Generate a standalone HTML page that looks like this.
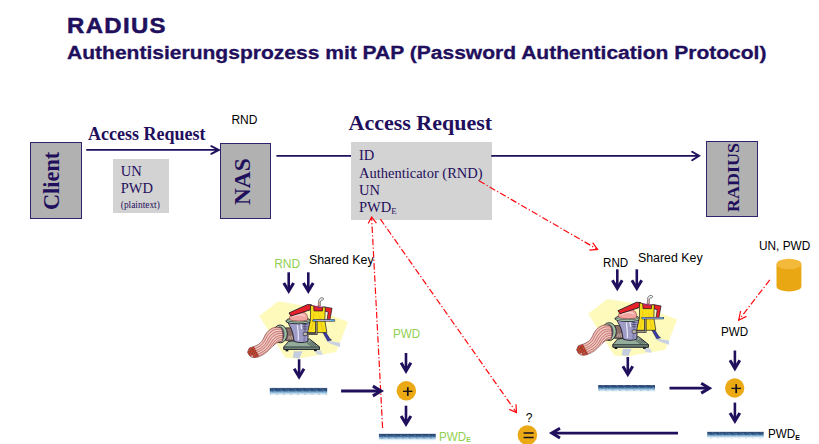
<!DOCTYPE html>
<html><head><meta charset="utf-8">
<style>
html,body{margin:0;padding:0;background:#fff;}
body{width:819px;height:444px;position:relative;overflow:hidden;font-family:"Liberation Sans",sans-serif;}
.t{position:absolute;white-space:nowrap;line-height:1;transform-origin:0 0;}
.navy{color:#1f0f5c;}
.serif{font-family:"Liberation Serif",serif;}
.box{position:absolute;background:#b1b1b1;border:1.4px solid #2e2370;box-sizing:border-box;}
.gbox{position:absolute;background:#d3d3d3;}
.vt{position:absolute;font-family:"Liberation Serif",serif;font-weight:bold;color:#1f0f5c;white-space:nowrap;line-height:1;transform-origin:0 0;transform:rotate(-90deg);}
svg{position:absolute;left:0;top:0;}
sub{font-size:60%;vertical-align:baseline;position:relative;top:0.25em;line-height:0;}
sub.b{font-weight:bold;}
</style></head><body>
<div class="t navy" id="t1" style="left:66.7px;top:15.2px;font-size:21.8px;font-weight:bold;transform:scaleX(1.10);letter-spacing:1.2px;-webkit-text-stroke:0.5px #1f0f5c;">RADIUS</div>
<div class="t navy" id="t2" style="left:67px;top:45.3px;font-size:17.5px;font-weight:bold;transform:scaleX(1.2016);-webkit-text-stroke:0.3px #1f0f5c;">Authentisierungsprozess mit PAP (Password Authentication Protocol)</div>

<div class="box" style="left:29.5px;top:142px;width:52.5px;height:76.5px;"></div>
<div class="vt" id="vclient" style="left:39.8px;top:209.5px;font-size:22.3px;transform:rotate(-90deg) scale(1,1.06);">Client</div>
<div class="box" style="left:219.5px;top:142.9px;width:51.4px;height:76px;"></div>
<div class="vt" id="vnas" style="left:229.6px;top:204.8px;font-size:23.3px;transform:rotate(-90deg) scale(1,1.03);">NAS</div>
<div class="box" style="left:705.5px;top:140.5px;width:52.2px;height:76.5px;"></div>
<div class="vt" id="vrad" style="left:723.5px;top:212.2px;font-size:18px;transform:rotate(-90deg) scale(1,0.97);">RADIUS</div>

<div class="gbox" style="left:112.7px;top:158.5px;width:56.8px;height:54.7px;"></div>
<div class="gbox" style="left:350.7px;top:141.8px;width:141.1px;height:78px;"></div>
<div class="t serif navy" style="left:88px;top:125.23px;font-size:18px;font-weight:bold;">Access Request</div>
<div class="t serif navy" style="left:348.5px;top:111.58px;font-size:22px;font-weight:bold;">Access Request</div>
<div class="t serif navy" style="left:120.8px;top:163.66px;font-size:14.5px;">UN</div>
<div class="t serif navy" style="left:120.8px;top:181.16px;font-size:14.5px;">PWD</div>
<div class="t serif navy" style="left:120.8px;top:200.93px;font-size:9.4px;">(plaintext)</div>
<div class="t serif navy" style="left:359px;top:148.16px;font-size:14.5px;">ID</div>
<div class="t serif navy" style="left:359px;top:165.66px;font-size:14.5px;">Authenticator (RND)</div>
<div class="t serif navy" style="left:359px;top:182.86px;font-size:14.5px;">UN</div>
<div class="t serif navy" style="left:359px;top:199.96px;font-size:14.5px;">PWD<sub>E</sub></div>
<div class="t" style="left:231.4px;top:113.64px;font-size:12px;color:#000;">RND</div>
<div class="t" style="left:274.2px;top:257.74px;font-size:12px;color:#92d050;">RND</div>
<div class="t" style="left:309.2px;top:254.14px;font-size:12px;color:#000;transform:scaleX(1.03);">Shared Key</div>
<div class="t" style="left:392.6px;top:327.64px;font-size:12px;color:#92d050;transform:scaleX(0.97);">PWD</div>
<div class="t" style="left:439.2px;top:430.54px;font-size:12px;color:#92d050;transform:scaleX(0.97);">PWD<sub class="b">E</sub></div>
<div class="t" style="left:603.2px;top:257.44px;font-size:12px;color:#000;transform:scaleX(0.97);">RND</div>
<div class="t" style="left:637.8px;top:251.64px;font-size:12px;color:#000;transform:scaleX(1.03);">Shared Key</div>
<div class="t" style="left:758.7px;top:240.14px;font-size:12px;color:#000;transform:scaleX(0.985);">UN, PWD</div>
<div class="t" style="left:721.4px;top:325.84px;font-size:12px;color:#000;transform:scaleX(0.97);">PWD</div>
<div class="t" style="left:768px;top:428.34px;font-size:12px;color:#000;transform:scaleX(0.97);">PWD<sub class="b">E</sub></div>
<div class="t" style="left:525.7px;top:411.64px;font-size:12px;color:#000;">?</div>
<svg width="819" height="444" viewBox="0 0 819 444">
<defs>
<linearGradient id="barg" x1="0" y1="0" x2="0" y2="1"><stop offset="0" stop-color="#44628e"/><stop offset="0.15" stop-color="#21406c"/><stop offset="0.38" stop-color="#3f6a9a"/><stop offset="0.58" stop-color="#86b4d6"/><stop offset="0.8" stop-color="#d6e8f3"/><stop offset="1" stop-color="#ffffff"/></linearGradient>
<pattern id="noise" width="7" height="4" patternUnits="userSpaceOnUse"><rect x="0" y="1" width="2" height="1" fill="#fff"/><rect x="3" y="2" width="2" height="1" fill="#234"/><rect x="5" y="0" width="1" height="1" fill="#fff"/><rect x="1" y="3" width="2" height="1" fill="#fff"/></pattern>
<g id="grinder">
<!-- coordinates: 5.92x zoom of real px -->
<polygon points="114,154 227,67 392,94 640,188 570,367 341,407 268,401" fill="#fdfabc"/>
<!-- shadows -->
<polygon points="500,298 592,312 592,338 540,320" fill="#c9d2e4"/>
<polygon points="320,362 370,362 352,405 312,400" fill="#c4cce0"/>
<polygon points="440,358 480,358 490,385 455,380" fill="#cfd6e6"/>
<!-- base -->
<polygon points="260,336 288,304 412,290 470,336 470,352 260,352" fill="#93ad9a" stroke="#141420" stroke-width="5" stroke-linejoin="round"/>
<polygon points="260,337 470,337 470,352 260,352" fill="#6f8878" stroke="#141420" stroke-width="4"/>
<rect x="270" y="352" width="16" height="11" fill="#141420"/><rect x="438" y="352" width="16" height="10" fill="#141420"/>
<g stroke="#141420" stroke-width="3"><path d="M405,308 L440,332 M415,304 L450,330 M425,302 L458,328 M395,312 L428,334"/></g>
<!-- brown band + body -->
<path d="M270,224 H335 V300 H270 Z" fill="#8a6f68" stroke="#141420" stroke-width="4"/>
<g stroke="#e8d8d0" stroke-width="2.5" fill="none"><path d="M284,292 l8,-20 l6,20 l8,-22 l6,22 l8,-18 l5,16"/></g>
<path d="M282,185 C290,215 312,225 320,304 C345,314 378,314 402,304 C402,250 408,225 414,185 Z" fill="#9f9cc8" stroke="#141420" stroke-width="5"/>
<path d="M340,205 C344,240 346,262 346,298 M360,200 L365,232" stroke="#ecebf8" stroke-width="7" fill="none"/>
<path d="M384,196 C386,240 384,270 380,304" stroke="#7674a4" stroke-width="12" fill="none" opacity="0.7"/>
<path d="M372,205 H400 M370,218 H400 M372,231 H398" stroke="#141420" stroke-width="3"/>
<!-- outlet ring -->
<ellipse cx="238" cy="260" rx="42" ry="53" fill="#a2c2a4" stroke="#141420" stroke-width="5"/>
<ellipse cx="236" cy="262" rx="25" ry="43" fill="#5e6688" stroke="#141420" stroke-width="3"/>
<!-- strands -->
<path d="M243,224 C200,210 160,235 140,285 C125,318 100,332 58,342 C40,360 45,385 70,398 C90,402 105,398 118,392 C165,372 178,345 205,322 C220,308 238,306 250,302 C256,280 256,245 243,224 Z" fill="#efc0b8" stroke="#6a2020" stroke-width="3.5"/>
<g fill="none" stroke="#98302e" stroke-width="3">
<path d="M246,234 C205,224 170,247 150,294 C135,327 108,344 66,354"/>
<path d="M250,246 C210,238 180,260 160,302 C145,334 118,352 72,366"/>
<path d="M252,258 C215,252 190,272 170,310 C155,340 128,360 82,376"/>
<path d="M252,270 C220,266 198,284 180,318 C165,347 138,368 92,386"/>
<path d="M252,282 C225,280 206,296 190,324 C175,352 148,374 104,394"/>
<path d="M250,293 C232,292 214,304 198,328"/>
</g>
<g fill="none" stroke="#fff" stroke-width="2" opacity="0.85">
<path d="M248,240 C208,231 175,254 155,298 C140,330 113,348 69,360"/>
<path d="M252,264 C218,259 194,278 175,314 C160,344 133,364 87,381"/>
<path d="M252,288 C228,286 210,300 194,326 C180,352 152,376 110,394"/>
</g>
<g fill="#d8482a" stroke="#5a1410" stroke-width="2.5">
<circle cx="62" cy="352" r="8"/><circle cx="78" cy="346" r="8"/><circle cx="54" cy="368" r="8"/><circle cx="70" cy="364" r="8"/><circle cx="86" cy="360" r="8"/><circle cx="62" cy="382" r="8"/><circle cx="78" cy="378" r="8"/><circle cx="94" cy="374" r="8"/><circle cx="102" cy="388" r="7"/><circle cx="86" cy="392" r="7"/>
</g>
<!-- hopper rim -->
<ellipse cx="346" cy="180" rx="71" ry="16" fill="#a0bea3" stroke="#141420" stroke-width="5"/>
<!-- meat -->
<path d="M294,176 C286,140 330,126 360,128 C392,130 404,150 400,178 C370,186 322,186 294,176 Z" fill="#f2a4a0" stroke="#6a2020" stroke-width="3"/>
<path d="M310,158 C330,146 365,144 385,154" stroke="#fbd6d0" stroke-width="7" fill="none"/>
<path d="M275,180 A71,16 0 0 0 417,180" fill="none" stroke="#141420" stroke-width="13"/>
<path d="M277,181 A69,14 0 0 0 415,181" fill="none" stroke="#a0bea3" stroke-width="7"/>
<!-- person: arms/torso red -->
<polygon points="424,88 400,86 290,136 302,154 414,118" fill="#e8222a" stroke="#141420" stroke-width="5" stroke-linejoin="round"/>
<path d="M500,100 L545,108 L532,178 L516,176 L522,130 L504,126 Z" fill="#e8222a" stroke="#141420" stroke-width="4" stroke-linejoin="round"/>
<polygon points="422,90 505,102 503,130 420,128" fill="#e8222a"/>
<!-- legs -->
<path d="M490,250 L508,250 L530,286 L542,296 L520,302 L512,290 Z" fill="#3a3ab0" stroke="#141420" stroke-width="3" stroke-linejoin="round"/>
<!-- apron -->
<path d="M418,90 L436,94 L438,124 L488,124 L490,100 L505,102 L502,178 L514,252 L400,252 L417,178 Z" fill="#f7e01a" stroke="#141420" stroke-width="4" stroke-linejoin="round"/>
<path d="M436,140 C442,175 428,215 420,240 M472,150 C476,185 482,212 492,240" stroke="#f0a818" stroke-width="5" fill="none" opacity="0.65"/>
<path d="M440,94 C455,104 478,106 490,100" fill="none" stroke="#5a3a98" stroke-width="5"/>
<!-- head -->
<path d="M462,94 L466,70 L476,70 L476,94 Z" fill="#eab09a" stroke="#141420" stroke-width="2.5"/>
<path d="M466,70 C464,54 476,44 488,46 C498,48 496,58 488,60 C480,58 476,64 476,70" fill="#fff" stroke="#141420" stroke-width="3.5"/>
<!-- crank -->
<path d="M384,260 H452 V186" fill="none" stroke="#141420" stroke-width="13"/>
<path d="M384,260 H452 V186" fill="none" stroke="#a09488" stroke-width="6"/>
<rect x="374" y="250" width="24" height="20" rx="4" fill="#c4bcb4" stroke="#141420" stroke-width="3.5"/>
<path d="M436,180 H556" stroke="#141420" stroke-width="14" stroke-linecap="round"/>
<path d="M436,180 H556" stroke="#b0b0e0" stroke-width="7" stroke-linecap="round"/>
<path d="M436,180 H446 M540,180 H556" stroke="#4aa8e8" stroke-width="7" stroke-linecap="round"/>
</g>
</defs>
<use href="#grinder" transform="translate(240,290) scale(0.16892)"/>
<use href="#grinder" transform="translate(569,287.7) scale(0.16892)"/>
<g stroke="#1f0f5c" stroke-width="1.9" fill="none" stroke-linecap="round">
<path d="M87,149.9 H218.5 M211.3,146.2 L218.8,149.9 L211.3,153.8"/>
<path d="M276.4,155.9 H351" stroke-linecap="butt"/>
<path d="M492,155.9 H698.6 M692.2,151.8 L699.1,155.9 L692.2,160.3"/>
</g>
<g stroke="#ff0a10" stroke-width="1.2" fill="none">
<path d="M382.6,428 L371.6,217" stroke-dasharray="6.5 2.2 1.3 2.2"/><path d="M368.2,223.6 L371.6,217 L376.4,223.2"/>
<path d="M380.4,219.2 L516.5,412.6" stroke-dasharray="6.5 2.2 1.3 2.2"/><path d="M509.2,409.4 L516.5,412.6 L516,404.3"/>
<path d="M479,180.8 L597.6,249.4" stroke-dasharray="6.5 2.2 1.3 2.2"/><path d="M589.3,250.1 L597.6,249.4 L592.7,242.7"/>
<path d="M769.8,279.9 L738.7,320.2" stroke-dasharray="6.5 2.2 1.3 2.2"/><path d="M740.6,311 L738.7,320.2 L746.5,316.4"/>
</g>
<g stroke="#1f0f5c" fill="none" stroke-linecap="butt" stroke-linejoin="miter">
<path d="M288.7,272.3 V290.1" stroke-width="2.6"/><path d="M283.8,282.90000000000003 L288.7,291.1 L293.59999999999997,282.90000000000003" stroke-width="3"/>
<path d="M308.3,272.3 V290.1" stroke-width="2.6"/><path d="M303.40000000000003,282.90000000000003 L308.3,291.1 L313.2,282.90000000000003" stroke-width="3"/>
<path d="M299.1,359.3 V375.90000000000003" stroke-width="2.6"/><path d="M294.20000000000005,368.70000000000005 L299.1,376.90000000000003 L304.0,368.70000000000005" stroke-width="3"/>
<path d="M406,353 V370.0" stroke-width="2.6"/><path d="M401.1,362.8 L406,371.0 L410.9,362.8" stroke-width="3"/>
<path d="M406,405.7 V423.1" stroke-width="2.6"/><path d="M401.1,415.90000000000003 L406,424.1 L410.9,415.90000000000003" stroke-width="3"/>
<path d="M617.3,269.3 V287.40000000000003" stroke-width="2.6"/><path d="M612.4,280.20000000000005 L617.3,288.40000000000003 L622.1999999999999,280.20000000000005" stroke-width="3"/>
<path d="M636.8,269.3 V287.40000000000003" stroke-width="2.6"/><path d="M631.9,280.20000000000005 L636.8,288.40000000000003 L641.6999999999999,280.20000000000005" stroke-width="3"/>
<path d="M627.8,357 V373.40000000000003" stroke-width="2.6"/><path d="M622.9,366.20000000000005 L627.8,374.40000000000003 L632.6999999999999,366.20000000000005" stroke-width="3"/>
<path d="M734.9,350.5 V367.5" stroke-width="2.6"/><path d="M730.0,360.3 L734.9,368.5 L739.8,360.3" stroke-width="3"/>
<path d="M734.9,402.6 V420.1" stroke-width="2.6"/><path d="M730.0,412.90000000000003 L734.9,421.1 L739.8,412.90000000000003" stroke-width="3"/>
<path d="M341.1,391 H380.1" stroke-width="2.8"/><path d="M372.90000000000003,386.1 L381.1,391 L372.90000000000003,395.9" stroke-width="3"/>
<path d="M669.5,388.2 H708.4" stroke-width="2.8"/><path d="M701.1999999999999,383.3 L709.4,388.2 L701.1999999999999,393.09999999999997" stroke-width="3"/>
<path d="M678,433.1 H552.8" stroke-width="2.8"/><path d="M560.0,428.20000000000005 L551.8,433.1 L560.0,438.0" stroke-width="3"/>
</g>
<rect x="269.8" y="387.9" width="57.4" height="7.8" fill="url(#barg)"/><rect x="269.8" y="387.9" width="57.4" height="7.8" fill="url(#noise)" opacity="0.15"/>
<rect x="378.9" y="433.8" width="56.9" height="7" fill="url(#barg)"/><rect x="378.9" y="433.8" width="56.9" height="7" fill="url(#noise)" opacity="0.15"/>
<rect x="598.2" y="385" width="56.8" height="7" fill="url(#barg)"/><rect x="598.2" y="385" width="56.8" height="7" fill="url(#noise)" opacity="0.15"/>
<rect x="707.2" y="431.8" width="56.5" height="6.8" fill="url(#barg)"/><rect x="707.2" y="431.8" width="56.5" height="6.8" fill="url(#noise)" opacity="0.15"/>
<g fill="#eaa915">
<circle cx="406.35" cy="390.8" r="9.75"/>
<circle cx="734.7" cy="388" r="9.65"/>
<circle cx="527.4" cy="435" r="9.8"/>
</g>
<g stroke="#14101e" stroke-width="1.5">
<path d="M403,391.3 H412.4" stroke-width="1.3"/><path d="M407.8,387.2 V395.9" stroke-width="1.7"/>
<path d="M731.4,388.4 H741" stroke-width="1.3"/><path d="M736.2,384.2 V393.1" stroke-width="1.7"/>
<path d="M523.6,433 H533.6 M523.6,437.4 H533.6"/>
</g>
<g>
<path d="M776.5,264 V286.5 A12.45,5 0 0 0 801.4,286.5 V264 Z" fill="#e9a714"/>
<ellipse cx="788.95" cy="264" rx="12.45" ry="5.2" fill="#f2b93a"/>
</g>
</svg>
</body></html>
